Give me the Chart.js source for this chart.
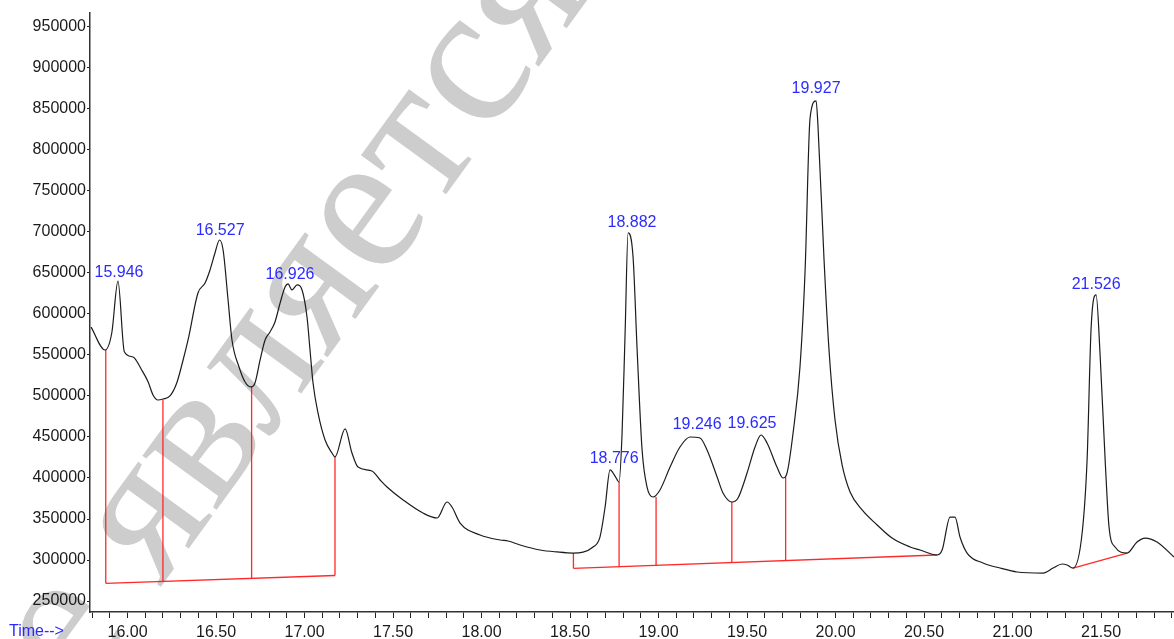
<!DOCTYPE html>
<html lang="en">
<head>
    <meta charset="UTF-8">
    <title>Chromatogram</title>
    <script src="https://cdn.jsdelivr.net/npm/chart.js@4.4.1/dist/chart.umd.min.js"></script>
    <style>
        * {
            margin: 0;
            padding: 0;
            box-sizing: border-box;
        }

        body {
            background: #ffffff;
            font-family: 'Liberation Sans', Arial, sans-serif;
        }

        .chart-box {
            width: 1174px;
            height: 639px;
            position: relative;
        }
    </style>
</head>
<body>
    <div class="chart-box">
        <canvas id="chrom"></canvas>
    </div>

    <script>
        // Trace (retention time in min, abundance)
        const times = [
            15.794, 15.873, 15.911, 15.946, 15.982, 16.031, 16.080, 16.116, 16.144, 16.172,
            16.201, 16.240, 16.278, 16.314, 16.342, 16.398, 16.438, 16.466, 16.494, 16.520,
            16.540, 16.568, 16.590, 16.630, 16.664, 16.698, 16.720, 16.749, 16.777, 16.805,
            16.833, 16.862, 16.890, 16.907, 16.929, 16.958, 16.986, 17.014, 17.031, 17.048,
            17.076, 17.116, 17.155, 17.172, 17.229, 17.268, 17.302, 17.381, 17.427, 17.466,
            17.557, 17.669, 17.749, 17.805, 17.833, 17.879, 17.992, 18.105, 18.150, 18.218,
            18.331, 18.427, 18.517, 18.630, 18.669, 18.698, 18.726, 18.754, 18.777, 18.794,
            18.811, 18.828, 18.856, 18.879, 18.907, 18.935, 18.969, 19.008, 19.065, 19.121,
            19.178, 19.234, 19.274, 19.331, 19.364, 19.415, 19.449, 19.500, 19.545, 19.579,
            19.613, 19.669, 19.703, 19.726, 19.760, 19.799, 19.828, 19.856, 19.890, 19.901,
            19.935, 19.963, 19.997, 20.037, 20.082, 20.150, 20.235, 20.319, 20.421, 20.477,
            20.573, 20.602, 20.647, 20.675, 20.703, 20.743, 20.833, 20.929, 21.025, 21.172,
            21.229, 21.280, 21.308, 21.342, 21.393, 21.421, 21.444, 21.472, 21.494, 21.523,
            21.545, 21.579, 21.647, 21.703, 21.749, 21.816, 21.912
        ];
        const abundance = [
            584000, 556100, 576800, 640000, 554000, 547600, 531700, 517400, 501200, 495100,
            496300, 500000, 515800, 543900, 568300, 625600, 637800, 653700, 674400, 690200,
            678000, 617100, 568300, 535400, 517100, 511000, 515800, 543900, 568300, 578000,
            590200, 613400, 632900, 636600, 629300, 635400, 629300, 596300, 556100, 515800,
            479300, 446300, 430500, 425600, 459800, 430500, 413400, 408500, 397600, 389000,
            373200, 357300, 351200, 370700, 364600, 345100, 330500, 324400, 323200, 318300,
            312200, 309800, 308500, 315900, 328000, 364600, 409800, 402400, 395100, 454900,
            576800, 698800, 669500, 556100, 434100, 389000, 376800, 385400, 413400, 437800,
            450000, 448800, 434100, 401200, 381700, 370700, 375600, 406100, 437800, 452400,
            442700, 413400, 400000, 406100, 454900, 535400, 653700, 839000, 859750, 828000,
            665800, 556100, 470700, 415900, 382900, 361000, 342700, 326800, 315900, 312200,
            306100, 312200, 352400, 352400, 328000, 308500, 296300, 290200, 285400, 284100,
            290200, 295100, 293900, 290200, 332900, 422000, 584100, 623200, 552400, 422000,
            340200, 315900, 308500, 322000, 326800, 322000, 303700
        ];

        // Peak annotations
        const peakLabels = ['15.946', '16.527', '16.926', '18.776', '18.882', '19.246', '19.625', '19.927', '21.526'];
        const labelTimes = [15.952, 16.523, 16.918, 18.749, 18.850, 19.218, 19.528, 19.890, 21.472];
        const labelValues = [640200, 691500, 637800, 413400, 701200, 454900, 456100, 864600, 625600];

        // Integration baselines
        const baseStartT = [15.877, 18.519, 21.342];
        const baseStartV = [271600, 289900, 290200];
        const baseEndT = [17.172, 20.573, 21.647];
        const baseEndV = [281100, 306100, 308500];

        // Drop lines (group = which baseline they fall on)
        const dropT = [15.877, 16.200, 16.701, 17.172, 18.519, 18.777, 18.986, 19.414, 19.718];
        const dropTop = [556100, 495100, 511000, 425600, 308500, 395100, 376800, 370700, 401200];
        const dropGroup = [0, 0, 0, 0, 1, 1, 1, 1, 1];

        const RED = 'rgba(255, 30, 30, 0.95)';

        function baseAt(g, t) {
            const f = (t - baseStartT[g]) / (baseEndT[g] - baseStartT[g]);
            return baseStartV[g] + f * (baseEndV[g] - baseStartV[g]);
        }

        const datasets = [{
            data: times.map((t, i) => ({ x: t, y: abundance[i] })),
            borderColor: '#1c1c1c',
            borderWidth: 1.2,
            pointRadius: 0,
            cubicInterpolationMode: 'monotone',
            order: 0
        }];

        baseStartT.forEach((t, g) => {
            datasets.push({
                data: [{ x: t, y: baseStartV[g] }, { x: baseEndT[g], y: baseEndV[g] }],
                borderColor: RED,
                borderWidth: 1.3,
                pointRadius: 0,
                order: 1
            });
        });

        dropT.forEach((t, i) => {
            datasets.push({
                data: [{ x: t, y: dropTop[i] }, { x: t, y: baseAt(dropGroup[i], t) }],
                borderColor: RED,
                borderWidth: 1.3,
                pointRadius: 0,
                order: 1
            });
        });

        // grey watermark behind everything
        const watermark = {
            id: 'watermark',
            beforeDraw(chart) {
                const ctx = chart.ctx;
                ctx.save();
                ctx.translate(16, 786);
                ctx.rotate(-54 * Math.PI / 180);
                ctx.font = '200px "Liberation Serif", serif';
                ctx.fillStyle = '#cdcdcd';
                ctx.textBaseline = 'alphabetic';
                ctx.fillText('не является', 0, 0);
                ctx.restore();
            }
        };

        // peak retention time labels + axis caption
        const annotations = {
            id: 'annotations',
            afterDatasetsDraw(chart) {
                const ctx = chart.ctx;
                const xs = chart.scales.x, ys = chart.scales.y;
                ctx.save();
                ctx.font = '16px "Liberation Sans", Arial, sans-serif';
                ctx.fillStyle = '#2b2bff';
                ctx.textAlign = 'center';
                ctx.textBaseline = 'bottom';
                peakLabels.forEach((lbl, i) => {
                    ctx.fillText(lbl, xs.getPixelForValue(labelTimes[i]), ys.getPixelForValue(labelValues[i]));
                });
                ctx.textAlign = 'left';
                ctx.textBaseline = 'middle';
                ctx.font = '16px "Liberation Sans", Arial, sans-serif';
                ctx.fillText('Time-->', 9, 632);
                ctx.restore();
            }
        };

        new Chart(document.getElementById('chrom'), {
            type: 'line',
            data: { datasets: datasets },
            options: {
                responsive: true,
                maintainAspectRatio: false,
                animation: false,
                events: [],
                layout: { padding: { top: 13, right: 0, left: 0, bottom: 0 } },
                plugins: {
                    legend: { display: false },
                    tooltip: { enabled: false }
                },
                scales: {
                    x: {
                        type: 'linear',
                        min: 15.788,
                        max: 21.912,
                        afterBuildTicks: (scale) => {
                            const ticks = [];
                            for (let k = 158; k <= 219; k++) ticks.push({ value: k / 10 });
                            scale.ticks = ticks;
                        },
                        afterFit: (scale) => {
                            scale.height = 27;
                            scale.paddingLeft = 0;
                            scale.paddingRight = 0;
                        },
                        ticks: {
                            autoSkip: false,
                            maxRotation: 0,
                            padding: 5,
                            color: '#1a1a1a',
                            font: { family: 'Liberation Sans', size: 16 },
                            callback: (v) => {
                                const d = v * 2;
                                return Math.abs(d - Math.round(d)) < 1e-6 ? v.toFixed(2) : '';
                            }
                        },
                        grid: {
                            drawOnChartArea: false,
                            drawTicks: true,
                            tickLength: 6,
                            color: '#222'
                        },
                        border: { display: true, color: '#333', width: 1.5 }
                    },
                    y: {
                        type: 'linear',
                        min: 236600,
                        max: 967000,
                        afterBuildTicks: (scale) => {
                            const ticks = [];
                            for (let v = 250000; v <= 950000; v += 50000) ticks.push({ value: v });
                            scale.ticks = ticks;
                        },
                        afterFit: (scale) => { scale.width = 90; },
                        ticks: {
                            padding: 1,
                            color: '#1a1a1a',
                            font: { family: 'Liberation Sans', size: 16 },
                            callback: (v) => String(v)
                        },
                        grid: {
                            drawOnChartArea: false,
                            drawTicks: true,
                            tickLength: 3,
                            color: '#222'
                        },
                        border: { display: true, color: '#333', width: 1.5 }
                    }
                }
            },
            plugins: [watermark, annotations]
        });
    </script>
</body>
</html>
